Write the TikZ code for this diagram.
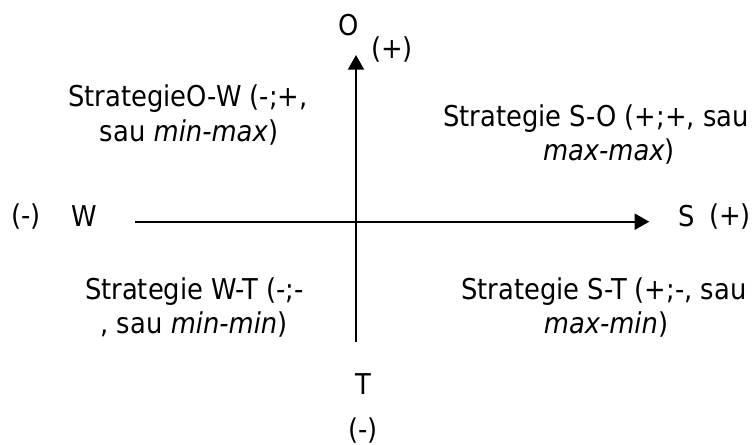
\documentclass[tikz,border=0pt]{standalone}
\usepackage{fontspec}
\setmainfont{DejaVu Sans Condensed}
\usetikzlibrary{arrows.meta}
\tikzset{
  lbl/.style={inner sep=0pt, anchor=base, font=\fontsize{21.5pt}{25.5pt}\selectfont},
  axis/.style={line width=1.5pt, -{Triangle[length=11pt,width=12pt]}}
}
\begin{document}
\begin{tikzpicture}[x=0.75pt,y=-0.75pt]
\useasboundingbox (0,0) rectangle (753,445);
% axes end points
\coordinate (wend) at (135,221.7);
\coordinate (send) at (649.3,221.7);
\coordinate (tend) at (356,342);
\coordinate (oend) at (356,55);
\draw[axis] (wend) -- (send);
\draw[axis] (tend) -- (oend);
% axis labels
\node[lbl] (O) at (349,35.5) {O};
\node[lbl] (Oplus) at (392,59) {(+)};
\node[lbl] (Wminus) at (26,226) {(-)};
\node[lbl] (W) at (84.5,227) {W};
\node[lbl] (S) at (686.5,227) {S};
\node[lbl] (Splus) at (730,226) {(+)};
\node[lbl] (T) at (363,394.5) {T};
\node[lbl] (Tminus) at (363,439.5) {(-)};
% quadrant texts
\node[lbl] (ow1) at (188,107) {StrategieO-W (-;+,};
\node[lbl] (ow2) at (189,142) {sau \textit{min-max})};
\node[lbl] (so1) at (596,127) {Strategie S-O (+;+, sau};
\node[lbl] (so2) at (609,161) {\textit{max-max})};
\node[lbl] (wt1) at (194.5,300) {Strategie W-T (-;-};
\node[lbl] (wt2) at (194,334) {, sau \textit{min-min})};
\node[lbl] (st1) at (604,300) {Strategie S-T (+;-, sau};
\node[lbl] (st2) at (606,334) {\textit{max-min})};
\end{tikzpicture}
\end{document}
